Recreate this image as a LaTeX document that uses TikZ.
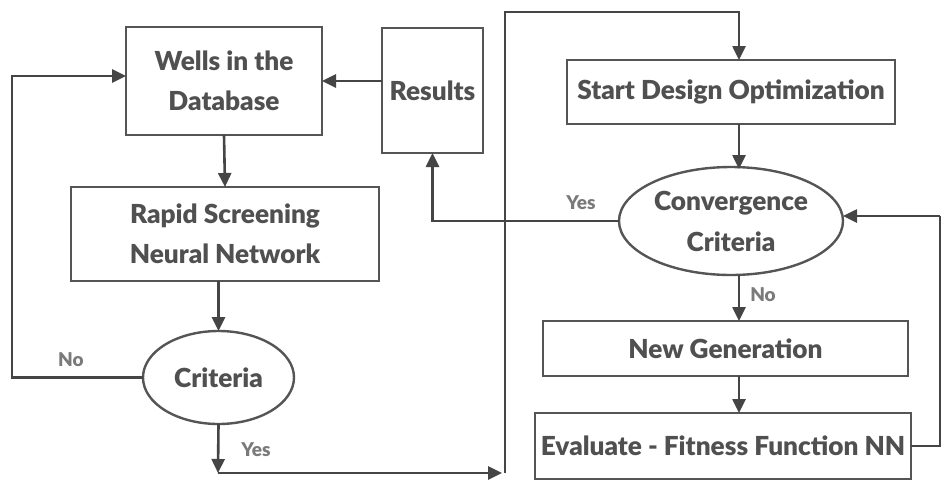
\documentclass[tikz,border=0pt]{standalone}
\usepackage{fontspec}
\setmainfont{Lato}[BoldFont={Lato Black}]
\usetikzlibrary{arrows.meta,shapes.geometric,calc}
\definecolor{boxline}{HTML}{555555}
\definecolor{txt}{HTML}{505050}
\definecolor{lbl}{HTML}{7A7A7A}
\definecolor{conn}{HTML}{454545}
\begin{document}
\begin{tikzpicture}[x=1pt,y=-1pt,
  box/.style={draw=boxline,line width=2.8pt,rectangle,outer sep=0pt,inner sep=2pt,
    align=center,text=txt,font=\fontsize{26.2}{40}\selectfont\bfseries},
  oval/.style={draw=boxline,line width=2.4pt,ellipse,outer sep=0pt,inner sep=0pt,
    align=center,text=txt,font=\fontsize{26.2}{41}\selectfont\bfseries},
  arr/.style={draw=conn,line width=2.6pt,-{Triangle[length=14pt,width=13pt]}},
  ln/.style={draw=conn,line width=2.8pt},
  lab/.style={text=lbl,font=\fontsize{19}{24}\selectfont\bfseries}]
\useasboundingbox[fill=white] (0,0) rectangle (941,482);

% process boxes
\node[box,minimum width=196pt,minimum height=108pt] (wells) at (224,81) {Wells in the\\Database};
\node[box,minimum width=101pt,minimum height=125pt] (results) at (432.5,90.5) {Results};
\node[box,minimum width=308pt,minimum height=94pt] (rapid) at (225,234) {Rapid Screening\\Neural Network};
\node[oval,minimum width=151pt,minimum height=93pt] (crit) at (218.5,377.5) {Criteria};
\node[box,minimum width=328pt,minimum height=64pt] (start) at (731,92) {Start Design Optimization};
\node[oval,minimum width=224pt,minimum height=108pt] (conv) at (731,221) {Convergence\\Criteria};
\node[box,minimum width=365pt,minimum height=55pt] (newgen) at (725.5,348.5) {New Generation};
\node[box,minimum width=376pt,minimum height=66pt] (eval) at (723,446) {Evaluate - Fitness Function NN};

% routing points
\coordinate (ax) at (739,0);
\coordinate (lp) at (12,0);
\coordinate (c1) at (218,473);
\coordinate (c2) at (505,473);
\coordinate (c3) at (505,12);
\coordinate (rr) at (940,0);

% left column
\draw[arr] (results.west |- wells.east) -- (wells.east);
\draw[arr] (wells.south) -- (rapid.north);
\draw[arr] (crit.north |- rapid.south) -- (crit.north);
\draw[arr] (crit.west) -- (crit.west -| lp) |- ([yshift=5pt]wells.west);
\draw[arr] (crit.south) -- (c1);
\draw[arr] (c1) -- ([xshift=-3pt]c2);
\draw[arr] (c2) -- (c3) -| (start.north -| ax);

% right column
\draw[arr] (start.south -| ax) -- ($(conv.north -| ax)+(0,2)$);
\draw[arr] (conv.south -| ax) -- (newgen.north -| ax);
\draw[arr] (newgen.south -| ax) -- (eval.north -| ax);
\draw[arr] (conv.west) -| (results.south);
\draw[ln] (eval.east) -- (eval.east -| rr) -- ($(rr |- conv.east)+(0,-5)$);
\draw[arr] ($(rr |- conv.east)+(0,-5)$) -- ($(conv.east)+(0,-5)$);

% branch labels
\node[lab] (no1) at (71,360) {No};
\node[lab] (yes1) at (256,450) {Yes};
\node[lab] (yes2) at (581,203) {Yes};
\node[lab] (no2) at (763,295) {No};
\end{tikzpicture}
\end{document}
